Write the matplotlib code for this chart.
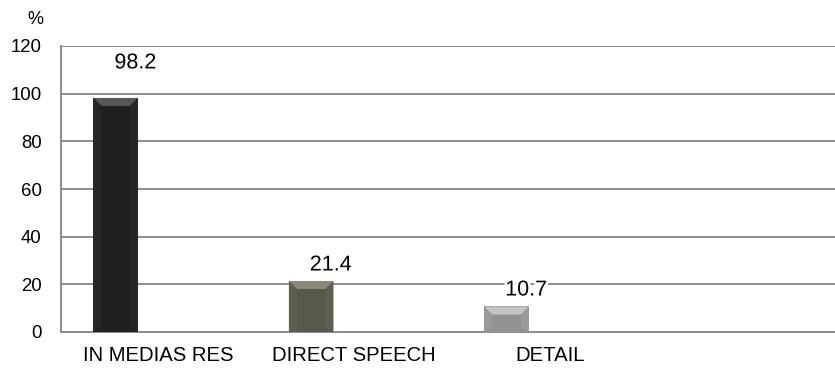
import matplotlib
matplotlib.use("Agg")
import matplotlib.pyplot as plt
import matplotlib.patheffects as pe
from matplotlib.patches import Polygon

plt.rcParams["font.family"] = ["Liberation Sans", "DejaVu Sans"]

# data
categories = ["IN MEDIAS RES", "DIRECT SPEECH", "DETAIL"]
values = [98.2, 21.4, 10.7]
yticks = [0, 20, 40, 60, 80, 100, 120]

# styles
BODY = ["#221f21", "#59584a", "#929295"]
TOP = ["#58565a", "#8b8a77", "#c4c4c6"]
SIDE = ["#282527", "#5f5e4f", "#9a9a9d"]
GRID = "#8c8c8e"
BAR_W = 0.228
BAR_SHIFT = -0.22
LABEL_SHIFT = -0.12
LABEL_OFF = [35, 16, 16.5]  # px from bar top to label centre

fig = plt.figure(figsize=(8.35, 3.7), dpi=100)
ax = fig.add_axes([61 / 835, 1 - 332 / 370, 1 - 61 / 835, (332 - 46) / 370])
ax.set_xlim(-0.5, 3.46)
ax.set_ylim(0, 120)

# px -> data scale for the bevel
sx = 3.96 / 774
sy = 120 / 286
bx, by = 8 * sx, 8 * sy

for i, v in enumerate(values):
    x0 = i + BAR_SHIFT - BAR_W / 2
    x1 = x0 + BAR_W
    ax.bar(i + BAR_SHIFT, v, BAR_W, color=BODY[i], zorder=3)
    ax.add_patch(Polygon([(x0, v), (x1, v), (x1 - bx, v - by), (x0 + bx, v - by)],
                         closed=True, color=TOP[i], lw=0, zorder=4))
    ax.add_patch(Polygon([(x0, 0), (x0, v), (x0 + bx, v - by), (x0 + bx, by * 0.4)],
                         closed=True, color=SIDE[i], lw=0, zorder=4))
    ax.add_patch(Polygon([(x1, 0), (x1, v), (x1 - bx, v - by), (x1 - bx, by * 0.4)],
                         closed=True, color=SIDE[i], lw=0, zorder=4))
    ax.annotate(f"{v:g}", (i + LABEL_SHIFT, v), xytext=(0, LABEL_OFF[i] * 0.72),
                textcoords="offset points", ha="center", va="center", fontsize=15.5,
                color="black", zorder=6,
                path_effects=[pe.withStroke(linewidth=4, foreground="white")])

ax.set_yticks(yticks)
ax.set_xticks(range(len(categories)))
ax.set_xticklabels(categories)
ax.tick_params(axis="both", length=0)
ax.tick_params(axis="y", pad=14, labelsize=13.4)
ax.tick_params(axis="x", pad=10, labelsize=14.6)
ax.yaxis.grid(True, color=GRID, lw=1.4, zorder=1)
ax.set_axisbelow(True)
for s in ["top", "right"]:
    ax.spines[s].set_visible(False)
for s in ["left", "bottom"]:
    ax.spines[s].set_color(GRID)
    ax.spines[s].set_linewidth(1.4)

fig.text(35 / 835, 1 - 19 / 370, "%", ha="center", va="center", fontsize=13)

fig.savefig("out.png", dpi=100)
